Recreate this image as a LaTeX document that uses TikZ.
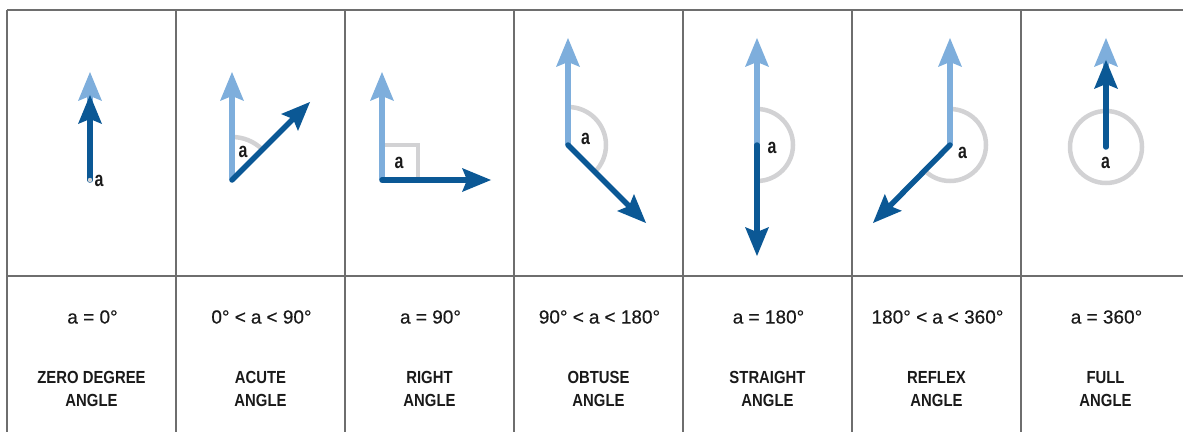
\documentclass[tikz,border=0pt]{standalone}
\usepackage{fontspec}
\usepackage{tikz}
\usetikzlibrary{arrows.meta}
\setmainfont{Liberation Sans}
\newfontfamily\condfont[FakeStretch=0.85]{Liberation Sans}
\newfontfamily\labelfont[FakeStretch=0.76]{Liberation Sans}
\newfontfamily\semifont[FakeBold=0.4]{Liberation Sans}
\definecolor{raylight}{HTML}{7EAEDC}
\definecolor{raydark}{HTML}{0B5895}
\definecolor{markgray}{HTML}{D2D2D4}
\definecolor{rulegray}{HTML}{6E6E6E}
\definecolor{inkblack}{HTML}{1A1A1A}
\tikzset{
  cell rule/.style={draw=rulegray,line width=1.1pt},
  ray tip/.style={-{Stealth[length=29pt,width=24pt,inset=5pt,line width=0pt]}},
  ray start/.style={ray tip,line width=5.5pt,draw=raylight,fill=raylight},
  ray end/.style={ray tip,line width=5.5pt,draw=raydark,fill=raydark,line cap=round},
  angle mark/.style={draw=markgray,line width=4.5pt},
  angle label/.style={font=\labelfont\bfseries\fontsize{21}{21}\selectfont,text=inkblack,inner sep=0pt},
  measure label/.style={font=\semifont\fontsize{19}{19}\selectfont,text=inkblack,inner sep=0pt},
  name label/.style={font=\condfont\bfseries\fontsize{17.5}{22.8}\selectfont,text=inkblack,align=center,inner sep=0pt}
}
\newcommand{\gapA}{\hspace{5pt}}
\begin{document}
\begin{tikzpicture}[x=1pt,y=1pt]
  \useasboundingbox (0,0) rectangle (1183,432);
  % table
  \draw[cell rule] (7,422) -- (1183,422) (7,156) -- (1183,156);
  \foreach \i in {0,...,6} {\draw[cell rule] (7+169*\i,422) -- (7+169*\i,0);}

  % vertices and tips
  \coordinate (O1) at (90,252);   \coordinate (L1) at (90,360);   \coordinate (D1) at (90,337);
  \coordinate (O2) at (232,252);  \coordinate (L2) at (232,360);  \coordinate (D2) at (310,330);
  \coordinate (O3) at (382,252);  \coordinate (L3) at (382,360);  \coordinate (D3) at (491,252);
  \coordinate (O4) at (568,287);  \coordinate (L4) at (568,394);  \coordinate (D4) at (646,209);
  \coordinate (O5) at (757,287);  \coordinate (L5) at (757,394);  \coordinate (D5) at (757,176);
  \coordinate (O6) at (950,287);  \coordinate (L6) at (950,394);  \coordinate (D6) at (873,209);
  \coordinate (O7) at (1106,285); \coordinate (L7) at (1106,394); \coordinate (D7) at (1106,372);

  % angle marks
  \draw[angle mark] (O2) ++(90:43) arc[start angle=90,end angle=45,radius=43];
  \draw[angle mark] (382,287) -- (418,287) -- (418,252);
  \draw[angle mark] (O4) ++(90:38) arc[start angle=90,end angle=-45,radius=38];
  \draw[angle mark] (O5) ++(90:36) arc[start angle=90,end angle=-90,radius=36];
  \draw[angle mark] (O6) ++(90:36) arc[start angle=90,end angle=-135,radius=36];
  \draw[angle mark] (O7) circle[radius=36];

  % rays
  \foreach \k in {1,...,7} {
    \draw[ray start] (O\k) -- (L\k);
    \draw[ray end] (O\k) -- (D\k);
  }
  \fill[markgray] (O1) circle (2.2);

  % angle labels
  \node[angle label] (a1) at (99,251) {a};
  \node[angle label] (a2) at (243,280) {a};
  \node[angle label] (a3) at (399,269) {a};
  \node[angle label] (a4) at (585.5,293) {a};
  \node[angle label] (a5) at (772,284.5) {a};
  \node[angle label] (a6) at (962.5,279) {a};
  \node[angle label] (a7) at (1105.5,269.5) {a};

  % measures
  \node[measure label] (m1) at (92.5,115) {a = 0°};
  \node[measure label] (m2) at (261.5,115) {0° <\gapA a\gapA < 90°};
  \node[measure label] (m3) at (430.5,115) {a = 90°};
  \node[measure label] (m4) at (599.5,115) {90° <\gapA a\gapA < 180°};
  \node[measure label] (m5) at (768.5,115) {a = 180°};
  \node[measure label] (m6) at (937.5,115) {180° <\gapA a\gapA < 360°};
  \node[measure label] (m7) at (1106.5,115) {a = 360°};

  % names
  \node[name label] (n1) at (91.5,43) {ZERO DEGREE\\ANGLE};
  \node[name label] (n2) at (260.5,43) {ACUTE\\ANGLE};
  \node[name label] (n3) at (429.5,43) {RIGHT\\ANGLE};
  \node[name label] (n4) at (598.5,43) {OBTUSE\\ANGLE};
  \node[name label] (n5) at (767.5,43) {STRAIGHT\\ANGLE};
  \node[name label] (n6) at (936.5,43) {REFLEX\\ANGLE};
  \node[name label] (n7) at (1105.5,43) {FULL\\ANGLE};
\end{tikzpicture}
\end{document}
